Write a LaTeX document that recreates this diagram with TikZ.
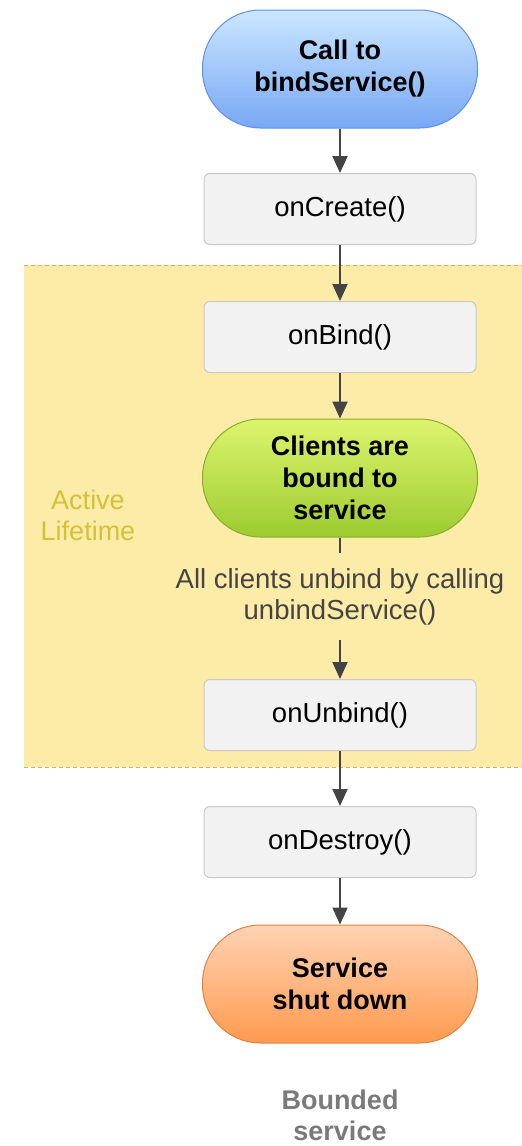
\documentclass[tikz,border=0pt]{standalone}
\usepackage{fontspec}
\setmainfont{Liberation Sans}
\usetikzlibrary{arrows.meta}

\definecolor{activefill}{HTML}{FDEBA8}
\definecolor{activeline}{HTML}{E9A66C}
\definecolor{activetext}{HTML}{D2C23A}
\definecolor{boxfill}{HTML}{F2F2F2}
\definecolor{boxline}{HTML}{C9C9C9}
\definecolor{arrowgrey}{HTML}{444444}
\definecolor{bluetop}{HTML}{CBE6FF}
\definecolor{bluebot}{HTML}{78A8F4}
\definecolor{blueline}{HTML}{6090E4}
\definecolor{greentop}{HTML}{DDF46E}
\definecolor{greenbot}{HTML}{9CCB30}
\definecolor{greenline}{HTML}{86AD2A}
\definecolor{orangetop}{HTML}{FFD3B4}
\definecolor{orangebot}{HTML}{FF9A50}
\definecolor{orangeline}{HTML}{DD8442}
\definecolor{notegrey}{HTML}{7A7A7A}

\begin{document}
\begin{tikzpicture}[x=1pt, y=-1pt,
	callback/.style={draw=boxline, fill=boxfill, line width=1pt, rounded corners=6pt,
		minimum width=272pt, minimum height=71pt, font=\fontsize{27.5}{32}\selectfont},
	pill/.style={line width=1pt, rounded corners=58pt, minimum width=275pt,
		minimum height=118pt, align=center, font=\bfseries\fontsize{27}{32}\selectfont},
	flow/.style={line width=2pt, draw=arrowgrey, -{Triangle[width=15pt,length=17pt]}}
]
	\useasboundingbox (0,0) rectangle (522,1146);
	
	% Active lifetime band
	\fill[activefill] (24,265) rectangle (522,767);
	\draw[activeline, line width=1pt, dash pattern=on 4pt off 3pt] (24,265) -- (522,265);
	\draw[activeline, line width=1pt, dash pattern=on 4pt off 3pt] (24,767) -- (522,767);
	\node[text=activetext, align=center, font=\fontsize{27}{31}\selectfont] (active) at (88,515) {Active\\Lifetime};
	
	% Nodes
	\node[pill, draw=blueline, top color=bluetop, bottom color=bluebot] (call) at (340,69) {Call to\\bindService()};
	\node[callback] (create) at (340,209) {onCreate()};
	\node[callback] (bind) at (340,337) {onBind()};
	\node[pill, draw=greenline, top color=greentop, bottom color=greenbot] (bound) at (340,478) {Clients are\\bound to\\service};
	\node[align=center, text=arrowgrey, font=\fontsize{27.5}{31}\selectfont] (unbindall) at (340,597) {All clients unbind by calling\\unbindService()};
	\node[callback] (unbind) at (340,715) {onUnbind()};
	\node[callback] (destroy) at (340,842) {onDestroy()};
	\node[pill, draw=orangeline, top color=orangetop, bottom color=orangebot] (shut) at (340,984) {Service\\shut down};
	\node[align=center, text=notegrey, font=\bfseries\fontsize{27}{31}\selectfont] (kind) at (340,1115) {Bounded\\service};
	
	\coordinate (cut) at (340,553);
	\coordinate (resume) at (340,640);
	
	% Directed edges
	\draw[flow] (call) -- (create);
	\draw[flow] (create) -- (bind);
	\draw[flow] (bind) -- (bound);
	\draw[line width=2pt, arrowgrey] (bound) -- (cut);
	\draw[flow] (resume) -- (unbind);
	\draw[flow] (unbind) -- (destroy);
	\draw[flow] (destroy) -- (shut);
\end{tikzpicture}
\end{document}
